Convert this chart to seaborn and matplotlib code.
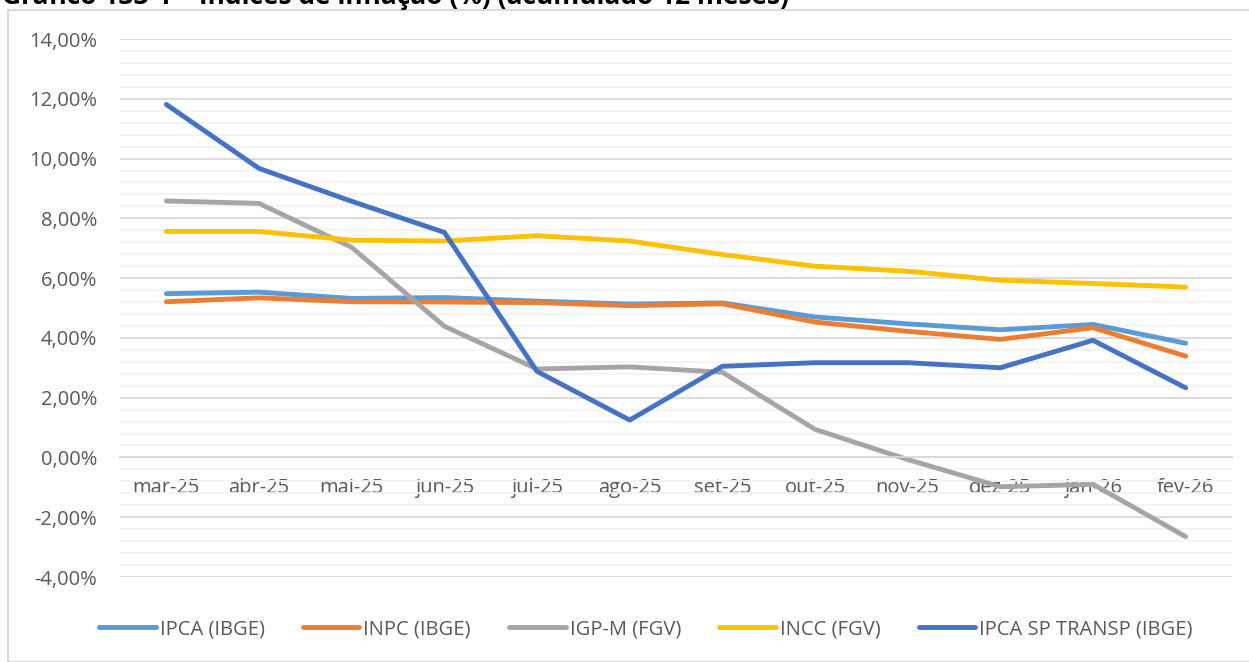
import numpy as np
import pandas as pd
import matplotlib
matplotlib.use("Agg")
import matplotlib.pyplot as plt
from matplotlib.patches import Rectangle
from matplotlib.ticker import MultipleLocator, FuncFormatter
import seaborn as sns

months = ["mar-25", "abr-25", "mai-25", "jun-25", "jul-25", "ago-25",
          "set-25", "out-25", "nov-25", "dez-25", "jan-26", "fev-26"]
ipca = [5.48, 5.53, 5.32, 5.35, 5.23, 5.13, 5.17, 4.70, 4.47, 4.27, 4.45, 3.82]
inpc = [5.21, 5.34, 5.21, 5.20, 5.18, 5.08, 5.14, 4.53, 4.22, 3.95, 4.34, 3.39]
igpm = [8.58, 8.50, 7.03, 4.39, 2.96, 3.03, 2.85, 0.94, -0.07, -0.98, -0.90, -2.65]
incc = [7.56, 7.56, 7.27, 7.24, 7.42, 7.24, 6.79, 6.40, 6.23, 5.93, 5.82, 5.70]
ipca_sp = [11.81, 9.67, 8.57, 7.53, 2.88, 1.25, 3.05, 3.17, 3.17, 3.00, 3.92, 2.33]
series_names = ["IPCA (IBGE)", "INPC (IBGE)", "IGP-M (FGV)", "INCC (FGV)", "IPCA SP TRANSP (IBGE)"]
colors = ["#5B9BD5", "#ED7D31", "#A5A5A5", "#FFC000", "#4472C4"]
title = "Gráfico 133-1 – Índices de inflação (%) (acumulado 12 meses)"

frames = []
for name, vals in zip(series_names, [ipca, inpc, igpm, incc, ipca_sp]):
    frames.append(pd.DataFrame({"pos": np.arange(len(months)), "valor": vals, "serie": name}))
df = pd.concat(frames, ignore_index=True)

sns.set_theme(style="white")
plt.rcParams["font.family"] = ["Open Sans", "DejaVu Sans"]

W, H = 1249, 662
fig = plt.figure(figsize=(W / 100, H / 100), dpi=100)
ax = fig.add_axes([120 / W, (H - 577) / H, (1232 - 120) / W, (577 - 39) / H])

# outer chart border
fig.patches.append(Rectangle((8 / W, 0), 1.2, (H - 10) / H, transform=fig.transFigure,
                             fill=False, edgecolor="#D9D9D9", linewidth=1.5, zorder=0))

sns.lineplot(data=df, x="pos", y="valor", hue="serie", hue_order=series_names,
             palette=colors, linewidth=3.5, sort=False, ax=ax, legend=False,
             solid_capstyle="round", solid_joinstyle="round")

ax.set_xlim(-0.5, len(months) - 0.5)
ax.set_ylim(-4, 14)
ax.yaxis.set_major_locator(MultipleLocator(2))
ax.yaxis.set_minor_locator(MultipleLocator(0.4))
ax.yaxis.set_major_formatter(FuncFormatter(lambda v, p: f"{v:.2f}%".replace(".", ",")))
ax.grid(which="major", axis="y", color="#D9D9D9", linewidth=1.3, zorder=0)
ax.grid(which="minor", axis="y", color="#F2F2F2", linewidth=1.3, zorder=0)
ax.set_axisbelow(True)

for s in ["top", "right", "left"]:
    ax.spines[s].set_visible(False)
ax.spines["bottom"].set_position(("data", 0))
ax.spines["bottom"].set_color("#D9D9D9")
ax.spines["bottom"].set_linewidth(1.3)

ax.set_xticks(np.arange(-0.5, len(months), 1.0))
ax.set_xticklabels([])
ax.tick_params(axis="x", which="major", length=6, width=1.3, color="#D9D9D9", direction="out")
ax.set_xticks(np.arange(len(months)), minor=True)
ax.set_xticklabels(months, minor=True)
ax.tick_params(axis="x", which="minor", length=0, pad=15, labelsize=14.5, labelcolor="#595959")
for lbl in ax.get_xticklabels(minor=True):
    lbl.set_bbox(dict(facecolor="white", edgecolor="none", pad=1.5))
ax.tick_params(axis="y", which="both", length=0, pad=16.5, labelsize=14.5, labelcolor="#595959")
ax.set_xlabel("")
ax.set_ylabel("")

handles = [plt.Line2D([0], [0], color=c, linewidth=3.5, solid_capstyle="round") for c in colors]
fig.legend(handles, series_names, loc="center", bbox_to_anchor=(646 / W, 1 - 629 / H),
           ncol=5, frameon=False, fontsize=14.5, labelcolor="#595959",
           handlelength=2.8, handletextpad=0.2, columnspacing=1.9)

fig.text(2 / W, 1 - 4 / H, title, fontsize=19, fontweight="bold", color="#000000",
         ha="left", va="baseline")

fig.savefig("out.png", dpi=100)
